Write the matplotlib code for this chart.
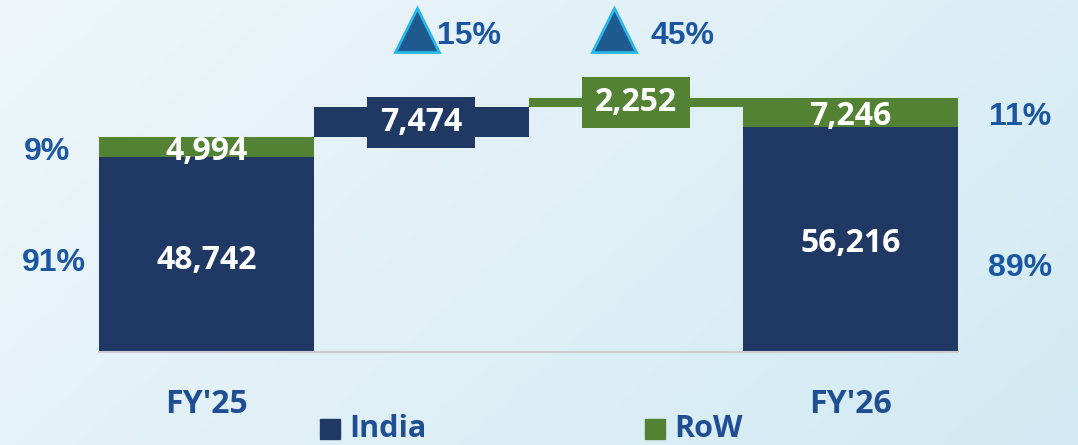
import numpy as np
import matplotlib
matplotlib.use("Agg")
import matplotlib.pyplot as plt

# data
years = ["FY'25", "FY'26"]
india = [48742, 56216]
row = [4994, 7246]
india_share = ["91%", "89%"]
row_share = ["9%", "11%"]
india_inc = 7474
row_inc = 2252
growth = ["15%", "45%"]

navy = "#203864"
green = "#548235"
blue_txt = "#1b56a0"
fy_txt = "#1f4e92"

W, H = 1078, 445
fig = plt.figure(figsize=(W / 100, H / 100), dpi=100)

# background gradient
bg = fig.add_axes([0, 0, 1, 1])
gx = np.linspace(0, 1, 200)
gy = np.linspace(0, 1, 100)
X, Y = np.meshgrid(gx, gy)
grad = 0.55 * X + 0.25 * Y
cmap = matplotlib.colors.LinearSegmentedColormap.from_list("bg", ["#eef6fa", "#d2eaf3"])
bg.imshow(grad, cmap=cmap, aspect="auto", extent=[0, 1, 0, 1], vmin=0, vmax=0.8)
bg.axis("off")

# axes: x -0.5..3.5 -> px 99..958, y 0 at px 352, 250 units/px
ax = fig.add_axes([99 / W, (H - 352) / H, 859 / W, 352 / H])
ax.set_xlim(-0.5, 3.5)
ax.set_ylim(0, 352 * 250)
ax.axis("off")
ax.patch.set_alpha(0)

fy25_total = india[0] + row[0]
mid1 = fy25_total + india_inc

# FY'25 and FY'26 stacked
xs = [0, 3]
ax.bar(xs, india, width=1.0, color=navy)
ax.bar(xs, row, bottom=india, width=1.0, color=green)

# bridge bars
ax.bar(1, india_inc, bottom=fy25_total, width=1.0, color=navy)
ax.bar(2, row_inc, bottom=mid1, width=1.0, color=green)

# label boxes on bridge bars
box_h = 51 * 250
box_w = 108 / 214.75
c1 = fy25_total + india_inc / 2
c2 = mid1 + row_inc / 2
ax.bar(1, box_h, bottom=c1 - box_h / 2, width=box_w, color=navy)
ax.bar(2, box_h, bottom=c2 - box_h / 2, width=box_w, color=green)

lab = dict(color="white", fontsize=23, fontweight="bold", family="Open Sans",
           ha="center", va="center")
ax.text(1, c1, f"{india_inc:,}", **lab)
ax.text(2, c2, f"{row_inc:,}", **lab)
for x, a, b, dy in zip(xs, india, row, [1500, 1000]):
    ax.text(x, a / 2 - dy, f"{a:,}", **lab)
    ax.text(x, a + b / 2 - 1000, f"{b:,}", **lab)

# baseline
ax.plot([-0.5, 3.5], [0, 0], color="#c9cdd2", lw=1.5, clip_on=False)

# share labels
pct = dict(color=blue_txt, fontsize=23, fontweight="bold", family="Liberation Sans",
           ha="center", va="center")
ax.text(-0.71, india[0] / 2 - 2000, india_share[0], **pct)
ax.text(-0.74, india[0] + row[0] / 2 - 1250, row_share[0], **pct)
ax.text(3.79, india[1] / 2 - 7000, india_share[1], **pct)
ax.text(3.79, india[1] + row[1] / 2 - 1000, row_share[1], **pct)

# growth triangles
tri_y = (352 - 30) * 250
for x, g, tx in zip([0.981, 1.90], growth, [1.074, 2.066]):
    ax.plot(x, tri_y, marker="^", ms=31, mfc="#1e5a8e", mec="#29b6ea", mew=2,
            clip_on=False)
    ax.text(tx, tri_y - 1600, g, ha="left", va="center", color=blue_txt,
            fontsize=23, fontweight="bold", family="Liberation Sans")

# category labels
for x, yl in zip(xs, years):
    ax.text(x, -13200, yl, ha="center", va="center", color=fy_txt, fontsize=23,
            fontweight="bold", family="Open Sans")

# legend
leg_y = -19250
for x, name, c in [(0.575, "India", navy), (2.09, "RoW", green)]:
    ax.plot(x, leg_y, marker="s", ms=14, color=c, clip_on=False)
    ax.text(x + 0.09, leg_y + 100, name, ha="left", va="center", color=fy_txt,
            fontsize=22, fontweight="bold", family="Open Sans")

fig.savefig("out.png", dpi=100)
